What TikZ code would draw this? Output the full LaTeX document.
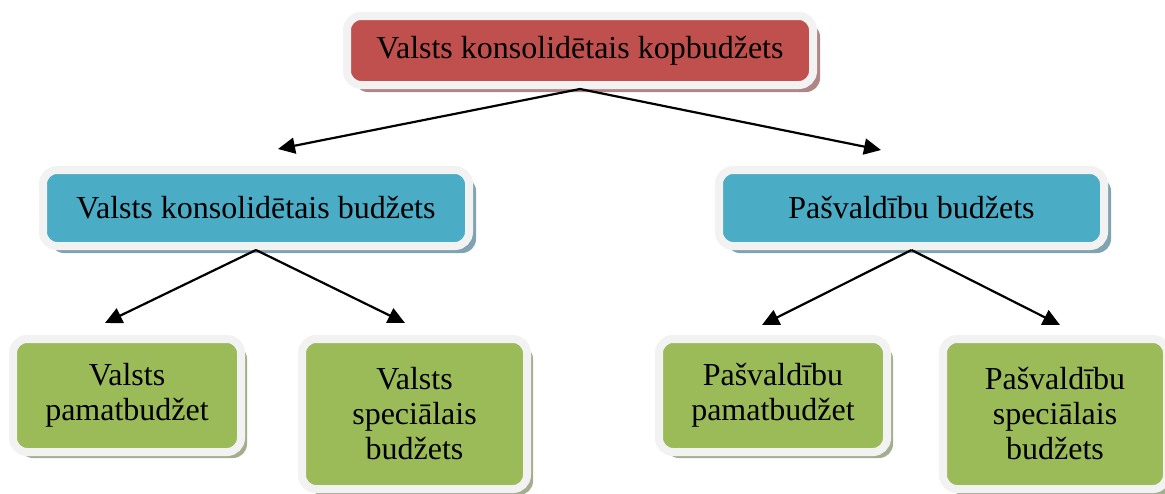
\documentclass[tikz,border=0pt]{standalone}
\usepackage{fontspec}
\setmainfont{Liberation Serif}
\usetikzlibrary{arrows.meta,shadows}
\definecolor{cred}{HTML}{C0504D}
\definecolor{cblue}{HTML}{4BACC6}
\definecolor{cgreen}{HTML}{9BBB59}
\definecolor{cframe}{HTML}{F2F2F2}
\definecolor{sred}{HTML}{B08585}
\definecolor{sblue}{HTML}{7FA3B0}
\definecolor{sgreen}{HTML}{A3AE8E}
\begin{document}
\begin{tikzpicture}[x=1pt,y=-1pt,
  box/.style={draw=cframe,line width=8pt,rounded corners=14pt,
    align=center,inner sep=0pt,font=\fontsize{32}{35}\selectfont,text=black},
  redbox/.style={box,fill=cred,drop shadow={shadow xshift=7pt,shadow yshift=-7pt,fill=sred,opacity=1}},
  bluebox/.style={box,fill=cblue,drop shadow={shadow xshift=7pt,shadow yshift=-7pt,fill=sblue,opacity=1}},
  greenbox/.style={box,fill=cgreen,drop shadow={shadow xshift=6pt,shadow yshift=-6pt,fill=sgreen,opacity=1}},
  arr/.style={line width=2.2pt,-{Triangle[length=17pt,width=16pt]}}]
\useasboundingbox (0,0) rectangle (1165,493);
\node[redbox,minimum width=466pt,minimum height=69pt] (top) at (580,50.5) {Valsts konsolidētais kopbudžets};
\node[bluebox,minimum width=426pt,minimum height=76pt] (vkb) at (256,208) {Valsts konsolidētais budžets};
\node[bluebox,minimum width=385pt,minimum height=76pt] (pb) at (911.5,208) {Pašvaldību budžets};
\node[greenbox,minimum width=228pt,minimum height=113pt] (vpb) at (127,395.5) {Valsts\\pamatbudžet};
\node[greenbox,minimum width=225pt,minimum height=150pt] (vsb) at (414.5,414) {Valsts\\speciālais\\budžets};
\node[greenbox,minimum width=228pt,minimum height=113pt] (ppb) at (773,395.5) {Pašvaldību\\pamatbudžet};
\node[greenbox,minimum width=224pt,minimum height=150pt] (psb) at (1055,414) {Pašvaldību\\speciālais\\budžets};
\coordinate (t1) at (278,149);
\coordinate (t2) at (881,150);
\coordinate (t3) at (105,323);
\coordinate (t4) at (405,323);
\coordinate (t5) at (762,325);
\coordinate (t6) at (1060,325);
\draw[arr] (top.south) -- (t1);
\draw[arr] (top.south) -- (t2);
\draw[arr] (vkb.south) -- (t3);
\draw[arr] (vkb.south) -- (t4);
\draw[arr] (pb.south) -- (t5);
\draw[arr] (pb.south) -- (t6);
\end{tikzpicture}
\end{document}
